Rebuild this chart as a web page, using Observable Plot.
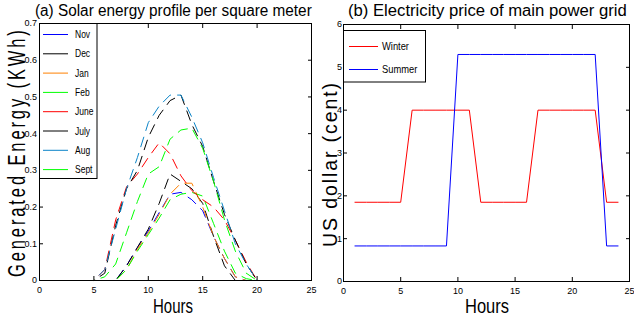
<!DOCTYPE html>
<html><head><meta charset="utf-8">
<script src="https://cdn.jsdelivr.net/npm/d3@7"></script>
<script src="https://cdn.jsdelivr.net/npm/@observablehq/plot@0.6"></script>
<style>
body{margin:0;background:#fff}
#wrap{position:relative;width:634px;height:320px;overflow:hidden;background:#fff}
#wrap > svg{position:absolute;top:0}
</style></head><body><div id="wrap"></div>
<script>
const FONT = '"Liberation Sans Narrow","Arial Narrow","Liberation Sans",Arial,sans-serif';

// ---- data ----
const hours = d3.range(1, 25);
const months = ["Nov", "Dec", "Jan", "Feb", "June", "July", "Aug", "Sept"];
const monthColors = ["#0000ff", "#000000", "#ff8000", "#00ff00", "#ff0000", "#000000", "#0a84c8", "#00ff00"];
const nov  = [0,0,0,0,0,0,0, 0.04,0.09,0.135,0.185,0.235,0.24,0.22,0.19,0.12,0.06,0.01, 0,0,0,0,0,0];
const dec  = [0,0,0,0,0,0,0, 0.04,0.09,0.14,0.21,0.29,0.27,0.25,0.21,0.12,0.04,0, 0,0,0,0,0,0];
const jan  = [0,0,0,0,0,0,0, 0.03,0.085,0.13,0.18,0.235,0.265,0.265,0.2,0.12,0.06,0.01, 0,0,0,0,0,0];
const feb  = [0,0,0,0,0,0,0, 0.03,0.08,0.125,0.17,0.22,0.235,0.24,0.23,0.155,0.08,0.02,0.005, 0,0,0,0,0];
const june = [0,0,0,0,0, 0.03,0.165,0.255,0.29,0.335,0.375,0.345,0.285,0.245,0.22,0.2,0.165,0.11,0.05, 0,0,0,0,0];
const july = [0,0,0,0,0, 0.02,0.15,0.25,0.3,0.39,0.45,0.49,0.505,0.425,0.365,0.27,0.18,0.11,0.045, 0,0,0,0,0];
const aug  = [0,0,0,0,0, 0.03,0.14,0.25,0.335,0.43,0.475,0.505,0.505,0.445,0.375,0.28,0.19,0.1,0.045, 0,0,0,0,0];
const sept = [0,0,0,0,0, 0.01,0.045,0.13,0.215,0.29,0.31,0.385,0.41,0.415,0.36,0.27,0.165,0.08,0.02, 0,0,0,0,0];
const energySeries = [nov, dec, jan, feb, june, july, aug, sept];

const seasons = ["Winter", "Summer"];
const seasonColors = ["#ff0000", "#0000ff"];
const winter = [1.85,1.85,1.85,1.85,1.85, 4,4,4,4,4,4, 1.85,1.85,1.85,1.85,1.85, 4,4,4,4,4,4, 1.85,1.85];
const summer = [0.83,0.83,0.83,0.83,0.83,0.83,0.83,0.83,0.83, 5.3,5.3,5.3,5.3,5.3,5.3,5.3,5.3,5.3,5.3,5.3,5.3,5.3, 0.83,0.83];
const priceSeries = [winter, summer];

const xTicks = [0, 5, 10, 15, 20, 25];
const energyTicks = [0, 0.1, 0.2, 0.3, 0.4, 0.5, 0.6, 0.7];
const priceTicks = [0, 1, 2, 3, 4, 5, 6];

const energyRows = months.flatMap((m, i) => hours.map((h, j) => ({month: m, color: monthColors[i], hour: h, value: energySeries[i][j]})));
const priceRows = seasons.flatMap((s, i) => hours.map((h, j) => ({season: s, color: seasonColors[i], hour: h, value: priceSeries[i][j]})));

function boxAxes(yTicks, yPad) {
  const blank = () => "";
  return [
    Plot.axisX({ticks: xTicks, tickSize: -4, tickPadding: 10, label: null}),
    Plot.axisX({anchor: "top", ticks: xTicks, tickSize: -4, tickFormat: blank, label: null}),
    Plot.axisY({ticks: yTicks, tickSize: -4, tickPadding: yPad, label: null, tickFormat: d => String(d)}),
    Plot.axisY({anchor: "right", ticks: yTicks, tickSize: -4, tickFormat: blank, label: null}),
    Plot.frame({stroke: "#000", strokeWidth: 1})
  ];
}

const left = Plot.plot({
  width: 317, height: 320, marginLeft: 39, marginRight: 6, marginTop: 23, marginBottom: 40,
  style: {fontFamily: FONT, fontSize: "9px", background: "transparent", color: "#000"},
  x: {domain: [0, 25]},
  y: {domain: [0, 0.7]},
  marks: [
    Plot.line(energyRows, {x: "hour", y: "value", z: "month", stroke: "color", strokeWidth: 1, strokeDasharray: "10,7"}),
    ...boxAxes(energyTicks, 6.5)
  ]
});

const right = Plot.plot({
  width: 317, height: 320, marginLeft: 26, marginRight: 5, marginTop: 24, marginBottom: 39,
  style: {fontFamily: FONT, fontSize: "9px", background: "transparent", color: "#000"},
  x: {domain: [0, 25]},
  y: {domain: [0, 6]},
  marks: [
    Plot.line(priceRows, {x: "hour", y: "value", z: "season", stroke: "color", strokeWidth: 1}),
    ...boxAxes(priceTicks, 5.5)
  ]
});

const wrap = document.getElementById("wrap");
left.style.left = "0px";
right.style.left = "317px";
wrap.appendChild(left);
wrap.appendChild(right);

// ---- overlay: titles, axis labels, legends ----
const ov = d3.select(wrap).append("svg")
  .attr("width", 634).attr("height", 320)
  .style("left", "0px").style("pointer-events", "none")
  .attr("font-family", FONT);

// text fitted to a target length by scaling along its own direction
function fit(s, x, y, size, target, rot = 0, ls = 0) {
  const t = ov.append("text").attr("x", 0).attr("y", 0).attr("font-size", size)
    .attr("fill", "#000").attr("letter-spacing", ls).text(s);
  const L = t.node().getComputedTextLength() - ls;
  const sx = target / L;
  t.attr("transform", `translate(${x},${y}) rotate(${rot}) scale(${sx},1)`);
  return t;
}
fit("(a) Solar energy profile per square meter", 35, 15.5, 16, 277);
fit("(b) Electricity price of main power grid", 348, 15.5, 16, 279);
fit("Hours", 153, 312.5, 21, 40);
fit("Hours", 465, 312.5, 21, 44);
fit("Generated Energy (KWh)", 25, 277, 23, 247, -90, 4);
fit("US dollar (cent)", 337, 247, 21, 164, -90, 2);

function legend(names, colors, x, y, w, h, y0, dy, lx0, lx1, tx, fs) {
  ov.append("rect").attr("x", x).attr("y", y).attr("width", w).attr("height", h)
    .attr("fill", "#fff").attr("stroke", "#000").attr("stroke-width", 1);
  names.forEach((n, i) => {
    const yy = y0 + i * dy;
    ov.append("line").attr("x1", lx0).attr("x2", lx1).attr("y1", yy).attr("y2", yy)
      .attr("stroke", colors[i]).attr("stroke-width", 1);
    ov.append("text").attr("x", 0).attr("y", 0).attr("dy", "0.35em")
      .attr("font-size", fs).attr("fill", "#000")
      .attr("transform", `translate(${tx},${yy}) scale(0.85,1)`).text(n);
  });
}
legend(months, monthColors, 39.5, 23.5, 57.5, 155, 34.5, 19.3, 43, 68, 75, 10);
legend(seasons, seasonColors, 343.5, 30.5, 82, 51.5, 46.5, 23, 349, 378, 382, 11);
</script></body></html>
